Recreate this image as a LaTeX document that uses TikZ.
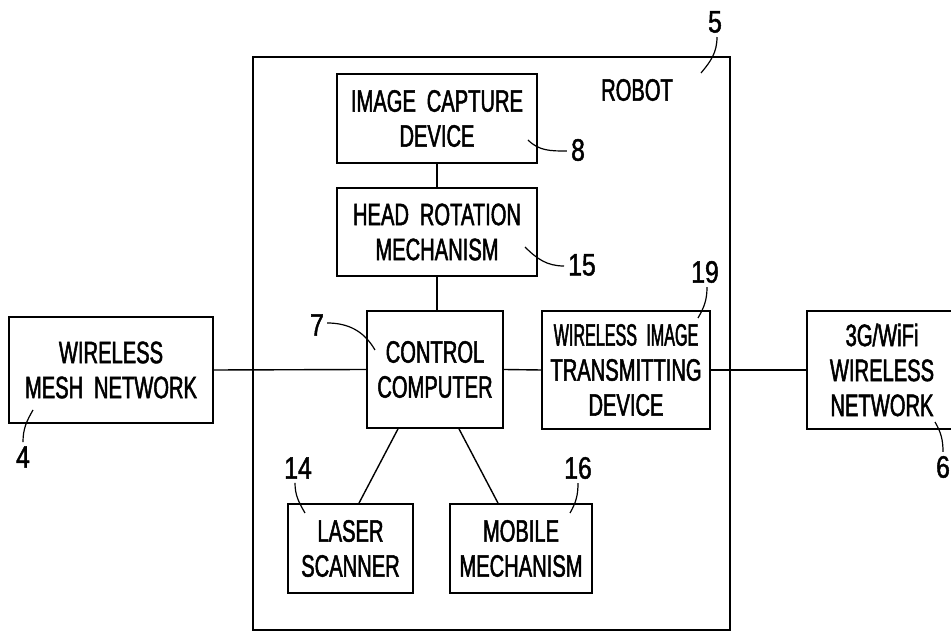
\documentclass[tikz,border=0pt]{standalone}
\usepackage{fontspec}
\newfontfamily\patentfont{Liberation Sans}[FakeStretch=0.65,FakeBold=1.6]
\newfontfamily\patentnarrow{Liberation Sans}[FakeStretch=0.52,FakeBold=1.6]
\newfontfamily\patentnum{Liberation Sans}[FakeStretch=0.8,FakeBold=1.4]
\usetikzlibrary{calc}
\definecolor{ink}{HTML}{000000}

\begin{document}
\begin{tikzpicture}[x=1pt,y=1pt,
  font=\patentfont\fontsize{31}{35}\selectfont,
  blk/.style={draw=ink,line width=1.8pt,align=center,inner sep=0pt},
  wire/.style={ink,line width=1.4pt},
  lead/.style={ink,line width=1.2pt},
  refnum/.style={font=\patentnum\fontsize{31}{35}\selectfont,inner sep=0pt}]
\useasboundingbox (0,0) rectangle (951,632);
% robot housing
\draw[ink,line width=1.8pt] (253,2) rectangle (730,575);
\node[inner sep=0pt] (robot) at (637,542) {ROBOT};
% blocks inside the robot
\node[blk,minimum width=200pt,minimum height=89pt] (capture) at (437,513.5) {IMAGE\hspace{0.35em}CAPTURE\\DEVICE};
\node[blk,minimum width=200pt,minimum height=88pt] (head) at (437,400) {HEAD\hspace{0.35em}ROTATION\\MECHANISM};
\node[blk,minimum width=136pt,minimum height=117pt] (ctrl) at (435,262.5) {CONTROL\\COMPUTER};
\node[blk,minimum width=125pt,minimum height=89pt] (laser) at (350.5,83.5) {LASER\\SCANNER};
\node[blk,minimum width=142pt,minimum height=89pt] (mobile) at (521,83.5) {MOBILE\\MECHANISM};
\node[blk,minimum width=168pt,minimum height=118pt] (imgtx) at (626,262) {{\patentnarrow WIRELESS\hspace{0.3em}IMAGE}\\TRANSMITTING\\DEVICE};
% outside networks
\node[blk,minimum width=204pt,minimum height=106pt] (mesh) at (111,262) {WIRELESS\\MESH\hspace{0.35em}NETWORK};
\node[blk,minimum width=150pt,minimum height=118pt] (cell) at (882,262) {3G/WiFi\\WIRELESS\\NETWORK};
% links
\draw[wire] (capture.south) -- (head.north);
\draw[wire] (head.south) -- (head.south |- ctrl.north);
\draw[wire] (mesh.east) -- (ctrl.west);
\draw[wire] (ctrl.east) -- (imgtx.west);
\draw[wire] (imgtx.east) -- (cell.west);
\draw[wire] ($(ctrl.south)+(-37,0)$) -- ($(laser.north)+(8.5,0)$);
\draw[wire] ($(ctrl.south)+(24,0)$) -- ($(mobile.north)+(-23,0)$);
% reference numerals
\node[refnum] (n5) at (715,610) {5};
\node[refnum] (n8) at (578,482) {8};
\node[refnum] (n15) at (582,367) {15};
\node[refnum] (n19) at (705,360) {19};
\node[refnum] (n7) at (317,307) {7};
\node[refnum] (n4) at (23,175) {4};
\node[refnum] (n14) at (298,164) {14};
\node[refnum] (n16) at (578,164) {16};
\node[refnum] (n6) at (943,165) {6};
\coordinate (t5) at (701,559);
\coordinate (t8) at (528,492);
\coordinate (t15) at (525,385);
\coordinate (t19) at (698,314);
\coordinate (t7) at (375,282);
\coordinate (t4) at (33,222);
\coordinate (t14) at (305,119);
\coordinate (t16) at (570,119);
\coordinate (t6) at (935,210);
\draw[lead] ($(n5.south)+(2,-4)$) to[out=-90,in=50] (t5);
\draw[lead] ($(n8.west)+(-4,-1)$) to[out=180,in=-45] (t8);
\draw[lead] ($(n15.west)+(-4,-1)$) to[out=180,in=-45] (t15);
\draw[lead] ($(n19.south)+(2,-4)$) to[out=-90,in=60] (t19);
\draw[lead] ($(n7.east)+(3,2)$) to[out=0,in=120] (t7);
\draw[lead] ($(n4.north)+(0,4)$) to[out=90,in=-120] (t4);
\draw[lead] ($(n14.south)+(-3,-4)$) to[out=-90,in=120] (t14);
\draw[lead] ($(n16.south)+(0,-4)$) to[out=-90,in=60] (t16);
\draw[lead] ($(n6.north)+(0,4)$) to[out=90,in=-60] (t6);
\end{tikzpicture}
\end{document}
